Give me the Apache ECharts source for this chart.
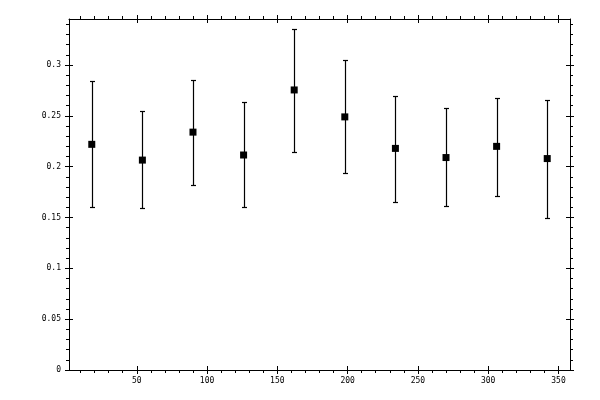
<!DOCTYPE html>
<html>
<head>
<meta charset="utf-8">
<script src="https://cdn.jsdelivr.net/npm/echarts@6/dist/echarts.min.js"></script>
<style>html,body{margin:0;padding:0;background:#fff}#c{width:600px;height:400px}</style>
</head>
<body>
<div id="c"></div>
<script>
// ---- data ----
const xValues = [18, 54, 90, 126, 162, 198, 234, 270, 306, 342];
const yValues = [0.222, 0.2065, 0.234, 0.2115, 0.2755, 0.249, 0.218, 0.209, 0.220, 0.208];
const yUpper  = [0.284, 0.2545, 0.285, 0.2635, 0.335, 0.305, 0.270, 0.258, 0.268, 0.266];
const yLower  = [0.160, 0.159, 0.182, 0.160, 0.2145, 0.1935, 0.165, 0.161, 0.171, 0.150];
const xMajorTicks = [50, 100, 150, 200, 250, 300, 350];
const xMinorTicks = [10, 20, 30, 40, 60, 70, 80, 90, 110, 120, 130, 140, 160, 170, 180, 190, 210, 220, 230, 240, 260, 270, 280, 290, 310, 320, 330, 340];
const yMajorTicks = [0, 0.05, 0.1, 0.15, 0.2, 0.25, 0.3];
const yMinorTicks = [0.01, 0.02, 0.03, 0.04, 0.06, 0.07, 0.08, 0.09, 0.11, 0.12, 0.13, 0.14, 0.16, 0.17, 0.18, 0.19, 0.21, 0.22, 0.23, 0.24, 0.26, 0.27, 0.28, 0.29, 0.31, 0.32, 0.33, 0.34];
const xRange = [1.8, 358.2];
const yRange = [0, 0.3453];

// ---- axes helpers ----
const FONT = {fontFamily: 'DejaVu Sans Mono', fontSize: 8, color: '#000'};
function mkAxis(dim, position, ticks, opts) {
  const range = dim === 'x' ? xRange : yRange;
  return {
    type: 'value', position: position, min: range[0], max: range[1],
    axisLine: {show: !!opts.line, onZero: false, lineStyle: {color: '#000', width: 1}},
    axisTick: {show: true, customValues: ticks, inside: !!opts.inside, length: opts.len, lineStyle: {color: '#000', width: 1}},
    axisLabel: opts.labels ? Object.assign({show: true, customValues: ticks, margin: dim === 'x' ? 7 : 8}, FONT) : {show: false},
    splitLine: {show: false}
  };
}
const xAxes = [
  mkAxis('x', 'bottom', xMajorTicks, {line: true, labels: true, len: 4}),
  mkAxis('x', 'bottom', xMajorTicks, {inside: true, len: 4}),
  mkAxis('x', 'bottom', xMinorTicks, {len: 3}),
  mkAxis('x', 'top', xMajorTicks, {line: true, len: 4}),
  mkAxis('x', 'top', xMajorTicks, {inside: true, len: 4}),
  mkAxis('x', 'top', xMinorTicks, {len: 3})
];
const yAxes = [
  mkAxis('y', 'left', yMajorTicks, {line: true, labels: true, len: 4}),
  mkAxis('y', 'left', yMajorTicks, {inside: true, len: 4}),
  mkAxis('y', 'left', yMinorTicks, {len: 3}),
  mkAxis('y', 'right', yMajorTicks, {line: true, len: 4}),
  mkAxis('y', 'right', yMajorTicks, {inside: true, len: 4}),
  mkAxis('y', 'right', yMinorTicks, {len: 3})
];

const errData = xValues.map((x, i) => [x, yUpper[i], yLower[i]]);
const ptData = xValues.map((x, i) => [x, yValues[i]]);

const chart = echarts.init(document.getElementById('c'), null, {renderer: 'canvas'});
chart.setOption({
  animation: false,
  backgroundColor: '#fff',
  grid: {left: 69, right: 30, top: 19, bottom: 30, containLabel: false},
  xAxis: xAxes,
  yAxis: yAxes,
  series: [
    {
      type: 'custom',
      xAxisIndex: 0, yAxisIndex: 0,
      data: errData,
      renderItem: function (params, api) {
        const top = api.coord([api.value(0), api.value(1)]);
        const bot = api.coord([api.value(0), api.value(2)]);
        const x = Math.round(top[0]) + 0.5;
        const y1 = Math.round(top[1]) + 0.5, y2 = Math.round(bot[1]) + 0.5;
        const cap = 2.5;
        const st = {stroke: '#000', lineWidth: 1.2};
        return {type: 'group', children: [
          {type: 'line', shape: {x1: x, y1: y1, x2: x, y2: y2}, style: st},
          {type: 'line', shape: {x1: x - cap, y1: y1, x2: x + cap, y2: y1}, style: st},
          {type: 'line', shape: {x1: x - cap, y1: y2, x2: x + cap, y2: y2}, style: st}
        ]};
      }
    },
    {
      type: 'scatter',
      xAxisIndex: 0, yAxisIndex: 0,
      data: ptData,
      symbol: 'rect', symbolSize: 7,
      itemStyle: {color: '#000', opacity: 1},
      emphasis: {disabled: true}
    }
  ]
});
</script>
</body>
</html>
